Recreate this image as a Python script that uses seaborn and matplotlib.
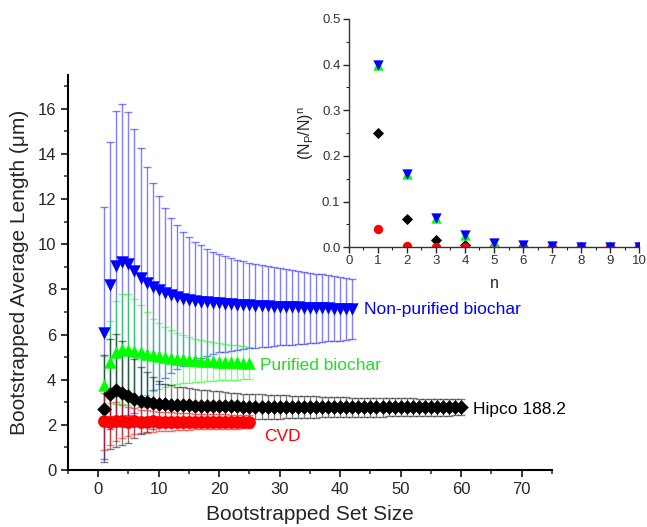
"""
Bootstrapped average length vs. set size, with inset of (Np/N)^n.
"""

import numpy as np
import pandas as pd
import matplotlib
matplotlib.use("Agg")
import matplotlib.pyplot as plt
from matplotlib.ticker import MultipleLocator, FormatStrFormatter
import seaborn as sns


# ──────────────────────────────────────────────────────────────────────────────
# Data
# ──────────────────────────────────────────────────────────────────────────────

nonpur_mean = [6.07, 8.18, 9.04, 9.21, 9.14, 8.81, 8.52, 8.30, 8.12, 7.97,
               7.85, 7.75, 7.66, 7.59, 7.54, 7.50, 7.46, 7.43, 7.41, 7.39,
               7.36, 7.34, 7.32, 7.30, 7.29, 7.27, 7.26, 7.25, 7.24, 7.23,
               7.22, 7.21, 7.20, 7.19, 7.18, 7.17, 7.16, 7.16, 7.15, 7.14,
               7.14, 7.13]
nonpur_err = [5.58, 6.34, 6.86, 6.99, 6.70, 6.30, 5.73, 5.12, 4.59, 4.16,
              3.76, 3.43, 3.17, 2.97, 2.78, 2.61, 2.50, 2.36, 2.25, 2.17,
              2.11, 2.05, 2.00, 1.95, 1.90, 1.86, 1.82, 1.78, 1.74, 1.71,
              1.68, 1.65, 1.62, 1.59, 1.56, 1.53, 1.50, 1.46, 1.43, 1.41,
              1.37, 1.34]

pur_mean = [3.78, 4.79, 5.21, 5.36, 5.33, 5.27, 5.21, 5.15, 5.10, 5.05,
            5.01, 4.97, 4.94, 4.91, 4.88, 4.86, 4.84, 4.82, 4.81, 4.80,
            4.79, 4.78, 4.77, 4.76, 4.75]
pur_err = [1.26, 1.80, 2.27, 2.45, 2.45, 2.32, 2.08, 1.84, 1.61, 1.47,
           1.32, 1.22, 1.14, 1.07, 1.01, 0.96, 0.92, 0.88, 0.85, 0.82,
           0.80, 0.78, 0.76, 0.74, 0.72]

hipco_mean = [2.72, 3.38, 3.54, 3.41, 3.26, 3.16, 3.08, 3.02, 2.96, 2.93,
              2.91, 2.89, 2.88, 2.87, 2.86, 2.85, 2.84, 2.84, 2.83, 2.83,
              2.82, 2.82, 2.82, 2.81, 2.81, 2.81, 2.81, 2.80, 2.80, 2.80,
              2.80, 2.80, 2.79, 2.79, 2.79, 2.79, 2.79, 2.79, 2.79, 2.79,
              2.78, 2.78, 2.78, 2.78, 2.78, 2.78, 2.78, 2.78, 2.78, 2.78,
              2.78, 2.78, 2.78, 2.78, 2.78, 2.78, 2.78, 2.78, 2.78, 2.78]
hipco_err = [2.38, 2.43, 2.50, 2.30, 2.06, 1.76, 1.50, 1.33, 1.15, 1.02,
             0.90, 0.86, 0.82, 0.79, 0.76, 0.73, 0.71, 0.69, 0.67, 0.65,
             0.63, 0.61, 0.60, 0.58, 0.57, 0.56, 0.55, 0.54, 0.53, 0.52,
             0.51, 0.50, 0.49, 0.48, 0.48, 0.47, 0.46, 0.46, 0.45, 0.44,
             0.44, 0.43, 0.43, 0.42, 0.42, 0.41, 0.41, 0.40, 0.40, 0.39,
             0.39, 0.39, 0.38, 0.38, 0.38, 0.37, 0.37, 0.37, 0.36, 0.36]

cvd_mean = [2.16, 2.15, 2.16, 2.16, 2.15, 2.16, 2.15, 2.15, 2.16, 2.15,
            2.15, 2.15, 2.15, 2.15, 2.15, 2.15, 2.15, 2.15, 2.15, 2.15,
            2.15, 2.15, 2.15, 2.15, 2.15]
cvd_err = [1.26, 1.02, 0.86, 0.74, 0.65, 0.58, 0.53, 0.49, 0.46, 0.44,
           0.42, 0.40, 0.39, 0.37, 0.36, 0.35, 0.34, 0.34, 0.33, 0.32,
           0.32, 0.31, 0.31, 0.30, 0.30]

# inset: probability of n consecutive picks, (Np/N)^n
inset_n = [1, 2, 3, 4, 5, 6, 7, 8, 9, 10]
inset_nonpur = [0.40, 0.16, 0.064, 0.026, 0.010, 0.004, 0.0016, 0.0007, 0.0003, 0.0001]
inset_pur = [0.40, 0.16, 0.064, 0.026, 0.010, 0.004, 0.0016, 0.0007, 0.0003, 0.0001]
inset_hipco = [0.25, 0.062, 0.016, 0.004, 0.001, 0.0002, 0.0001, 0.0, 0.0, 0.0]
inset_cvd = [0.04, 0.0016, 0.0001, 0.0, 0.0, 0.0, 0.0, 0.0, 0.0, 0.0]

BLUE = "#0000ff"
GREEN = "#00ff00"
BLACK = "#000000"
RED = "#ff0000"

FONT = ["Liberation Sans", "DejaVu Sans"]


def series_frame(mean, err, name):
    return pd.DataFrame({
        "set_size": np.arange(1, len(mean) + 1),
        "mean": mean,
        "err": err,
        "sample": name,
    })


# ──────────────────────────────────────────────────────────────────────────────
# Plot
# ──────────────────────────────────────────────────────────────────────────────

def main():
    sns.set_theme(style="ticks")
    plt.rcParams["font.family"] = FONT
    plt.rcParams["mathtext.fontset"] = "custom"
    plt.rcParams["mathtext.rm"] = "Liberation Sans"
    plt.rcParams["mathtext.it"] = "Liberation Sans:italic"

    series = [
        (series_frame(nonpur_mean, nonpur_err, "Non-purified biochar"), BLUE, "v", 80),
        (series_frame(pur_mean, pur_err, "Purified biochar"), GREEN, "^", 80),
        (series_frame(hipco_mean, hipco_err, "Hipco 188.2"), BLACK, "D", 55),
        (series_frame(cvd_mean, cvd_err, "CVD"), RED, "o", 85),
    ]

    fig = plt.figure(figsize=(6.47, 5.27), dpi=100)
    ax = fig.add_axes([0.105, 0.108, 0.748, 0.750])

    # error bars first, markers on top
    for df, color, marker, size in series:
        ax.errorbar(df["set_size"], df["mean"], yerr=df["err"], fmt="none",
                    ecolor=color, elinewidth=1.0, capsize=3, capthick=1.0,
                    alpha=0.5, zorder=2)
    for df, color, marker, size in series:
        sns.scatterplot(data=df, x="set_size", y="mean", marker=marker,
                        color=color, s=size, linewidth=0, ax=ax,
                        legend=False, zorder=3)

    ax.text(43.9, 7.1, "Non-purified biochar", color=BLUE, fontsize=12.5, va="center")
    ax.text(26.8, 4.62, "Purified biochar", color="#22dd22", fontsize=12.5, va="center")
    ax.text(62.0, 2.67, "Hipco 188.2", color=BLACK, fontsize=12.5, va="center")
    ax.text(27.5, 1.5, "CVD", color=RED, fontsize=12.5, va="center")

    ax.set_xlim(-5, 75)
    ax.set_ylim(0, 17.5)
    ax.xaxis.set_major_locator(MultipleLocator(10))
    ax.xaxis.set_minor_locator(MultipleLocator(5))
    ax.yaxis.set_major_locator(MultipleLocator(2))
    ax.yaxis.set_minor_locator(MultipleLocator(1))
    ax.tick_params(which="major", length=5, width=1.3, labelsize=12, direction="out")
    ax.tick_params(which="minor", length=3, width=1.1, direction="out")
    ax.set_xlabel("Bootstrapped Set Size", fontsize=15, labelpad=6)
    ax.set_ylabel("Bootstrapped Average Length (\u03bcm)", fontsize=15, labelpad=6)
    sns.despine(ax=ax)
    for side in ["left", "bottom"]:
        ax.spines[side].set_linewidth(1.5)
        ax.spines[side].set_color("black")

    # inset
    axin = fig.add_axes([0.539, 0.531, 0.449, 0.433])
    axin.set_facecolor("none")
    for vals, color, marker, size in [
        (inset_hipco, BLACK, "D", 32),
        (inset_cvd, RED, "o", 45),
        (inset_pur, GREEN, "^", 55),
        (inset_nonpur, BLUE, "v", 55),
    ]:
        sns.scatterplot(x=inset_n, y=vals, marker=marker, color=color, s=size,
                        linewidth=0, ax=axin, legend=False)
    axin.set_xlim(0, 10)
    axin.set_ylim(0, 0.5)
    axin.xaxis.set_major_locator(MultipleLocator(1))
    axin.xaxis.set_minor_locator(MultipleLocator(0.5))
    axin.yaxis.set_major_locator(MultipleLocator(0.1))
    axin.yaxis.set_minor_locator(MultipleLocator(0.05))
    axin.yaxis.set_major_formatter(FormatStrFormatter("%.1f"))
    axin.tick_params(which="major", length=4, width=1.0, labelsize=9.5, pad=2,
                     labelcolor="#333333")
    axin.tick_params(which="minor", length=2, width=0.8)
    axin.set_xlabel("n", fontsize=11.5, labelpad=6)
    axin.set_ylabel("(N$_\\mathrm{P}$/N)$^\\mathrm{n}$", fontsize=11.5, labelpad=4)
    sns.despine(ax=axin)
    for side in ["left", "bottom"]:
        axin.spines[side].set_linewidth(1.0)
        axin.spines[side].set_color("#333333")

    fig.savefig("out.png", dpi=100)
    plt.close(fig)


if __name__ == "__main__":
    main()
